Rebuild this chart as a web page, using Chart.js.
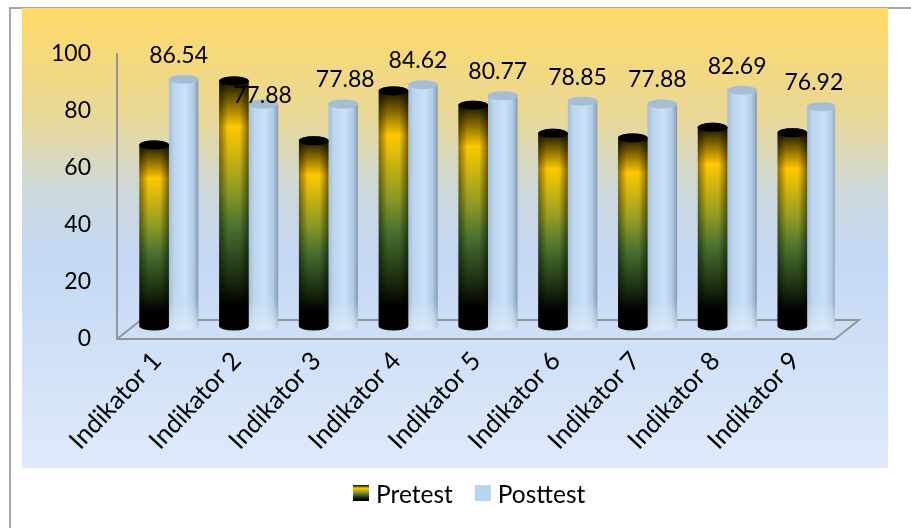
<!DOCTYPE html>
<html>
<head>
<meta charset="utf-8">
<script src="https://cdn.jsdelivr.net/npm/chart.js@4"></script>
<style>
	html, body { margin: 0; padding: 0; background: #fff; overflow: hidden; }
	#frame { position: absolute; left: 9px; top: 7px; right: 0; bottom: 0; border-left: 2px solid #a6a6a6; border-top: 2px solid #a6a6a6; }
	#panel {
		position: absolute; left: 22px; top: 8px; width: 866px; height: 460px;
		background: linear-gradient(180deg, #ffd966 0%, #e8d898 24%, #cdd8dc 40%, #c4d8f4 54%, #dfeafb 100%);
	}
	#chart { position: absolute; left: 0; top: 0; }
	#legend { position: absolute; left: 353px; top: 477px; height: 32px; display: flex; align-items: center; font: 24.5px Lato, "Open Sans", sans-serif; color: #000; }
	#legend i { display: block; width: 16px; height: 16px; margin-right: 7px; }
	#legend span { margin-right: 22px; }
	#legend .pre { background: linear-gradient(180deg, #000 0%, #ffc800 20%, #8f9a24 45%, #47702f 60%, #1a2a0e 80%, #000 90%); }
	#legend .post { background: #bad4ee; }
</style>
</head>
<body>
<div id="frame"></div>
<div id="panel"></div>
<canvas id="chart" width="911" height="528"></canvas>
<div id="legend"><i class="pre"></i><span>Pretest</span><i class="post"></i><span>Posttest</span></div>
<script>
const categories = ['Indikator 1', 'Indikator 2', 'Indikator 3', 'Indikator 4', 'Indikator 5', 'Indikator 6', 'Indikator 7', 'Indikator 8', 'Indikator 9'];
const pretest = [63.5, 86, 65, 82.5, 77.5, 67.6, 66, 69.7, 67.8];
const posttest = [86.54, 77.88, 77.88, 84.62, 80.77, 78.85, 77.88, 82.69, 76.92];
const yTicks = [0, 20, 40, 60, 80, 100];

const FONT = 'Lato, "Open Sans", sans-serif';
const AXIS_GREY = '#969696';

// bars stand in the middle of the floor, not on its front edge
const depthX = 12, depthY = -13;
const floorX = 24, floorY = -19;

// hand placed value labels, the rest sit above their bar
const labelNudge = { 1: [4, 16], 2: [7, 0], 8: [-3, 0] };

const ctx = document.getElementById('chart').getContext('2d');

function pretestStops(g) {
	g.addColorStop(0, '#000000');
	g.addColorStop(0.2, '#ffc800');
	g.addColorStop(0.45, '#8f9a24');
	g.addColorStop(0.6, '#47702f');
	g.addColorStop(0.8, '#1a2a0e');
	g.addColorStop(0.9, '#000000');
	g.addColorStop(1, '#000000');
	return g;
}

class CylinderBar extends Chart.BarElement {
	static id = 'cylinderBar';

	draw(c) {
		const { x, y, base, width } = this;
		const left = x + depthX - width / 2, right = left + width;
		const cx = x + depthX, top = y + depthY, bottom = base + depthY;
		const rx = width / 2, ry = 4.5;
		const isPre = this.options.backgroundColor === 'pre';

		c.save();
		c.beginPath();
		c.moveTo(left, top);
		c.lineTo(left, bottom);
		c.ellipse(cx, bottom, rx, ry, 0, Math.PI, 0, true);
		c.lineTo(right, top);
		c.ellipse(cx, top, rx, ry, 0, 0, Math.PI, true);
		c.closePath();

		if (isPre) {
			c.fillStyle = pretestStops(c.createLinearGradient(0, top - ry, 0, bottom + ry));
			c.fill();
			// darker sides
			const side = c.createLinearGradient(left, 0, right, 0);
			side.addColorStop(0, 'rgba(0,0,0,0.45)');
			side.addColorStop(0.3, 'rgba(0,0,0,0)');
			side.addColorStop(0.7, 'rgba(0,0,0,0)');
			side.addColorStop(1, 'rgba(0,0,0,0.5)');
			c.fillStyle = side;
			c.fill();
		} else {
			const body = c.createLinearGradient(left, 0, right, 0);
			body.addColorStop(0, '#a4bcd4');
			body.addColorStop(0.18, '#bcd6ee');
			body.addColorStop(0.55, '#c8e0f8');
			body.addColorStop(0.82, '#b4cde6');
			body.addColorStop(1, '#829ab4');
			c.fillStyle = body;
			c.fill();
			const lift = c.createLinearGradient(0, bottom - 26, 0, bottom + ry);
			lift.addColorStop(0, 'rgba(225,238,250,0)');
			lift.addColorStop(1, 'rgba(225,238,250,0.75)');
			c.save();
			c.clip();
			c.fillStyle = lift;
			c.fillRect(left, bottom - 26, width, 26 + ry);
			c.restore();
		}

		// cap
		c.beginPath();
		c.ellipse(cx, top, rx, ry, 0, 0, Math.PI * 2);
		c.fillStyle = isPre ? '#000000' : '#a6bdd4';
		c.fill();
		c.restore();
	}
}

class CylinderController extends Chart.BarController {
	static id = 'cylinder';
	static defaults = { ...Chart.BarController.defaults, dataElementType: 'cylinderBar' };
}

Chart.register(CylinderBar, CylinderController);

const floorPlugin = {
	id: 'floor',
	beforeDatasetsDraw(chart) {
		const { x, y } = chart.scales;
		const y0 = y.getPixelForValue(0);
		const c = chart.ctx;
		c.save();
		c.strokeStyle = AXIS_GREY;
		c.lineWidth = 2;
		c.beginPath();
		c.moveTo(x.left, y0);
		c.lineTo(x.left + floorX, y0 + floorY);
		c.lineTo(x.right + floorX, y0 + floorY);
		c.lineTo(x.right, y0);
		c.stroke();
		c.restore();
	}
};

const valueLabels = {
	id: 'valueLabels',
	afterDatasetsDraw(chart) {
		const c = chart.ctx;
		const bars = chart.getDatasetMeta(1).data;
		c.save();
		c.fillStyle = '#000';
		c.font = '23px ' + FONT;
		c.textAlign = 'center';
		c.textBaseline = 'middle';
		bars.forEach((bar, i) => {
			const nudge = labelNudge[i] || [0, 0];
			c.fillText(posttest[i].toFixed(2), bar.x + depthX - 5 + nudge[0], bar.y + depthY - 24 + nudge[1]);
		});
		c.restore();
	}
};

new Chart(ctx, {
	type: 'cylinder',
	data: {
		labels: categories,
		datasets: [
			{ label: 'Pretest', data: pretest, backgroundColor: 'pre' },
			{ label: 'Posttest', data: posttest, backgroundColor: 'post' },
		],
	},
	options: {
		responsive: false,
		animation: false,
		events: [],
		layout: { padding: { left: 0, right: 76, top: 54, bottom: 0 } },
		datasets: { cylinder: { barPercentage: 1, categoryPercentage: 0.74 } },
		scales: {
			x: {
				type: 'category',
				grid: { display: false, drawTicks: false },
				border: { color: AXIS_GREY, width: 2 },
				afterFit(scale) { scale.height = 189; },
				ticks: {
					color: '#000',
					font: { family: FONT, size: 25.5 },
					minRotation: 47,
					maxRotation: 47,
					padding: 7,
					labelOffset: 0,
					autoSkip: false,
				},
			},
			y: {
				min: 0,
				max: 100,
				afterFit(scale) { scale.width = 117; },
				afterBuildTicks(scale) { scale.ticks = yTicks.map(v => ({ value: v })); },
				grid: { display: false, drawTicks: false },
				border: { color: AXIS_GREY, width: 2 },
				ticks: { color: '#000', font: { family: FONT, size: 23 }, padding: 26 },
			},
		},
		plugins: {
			tooltip: { enabled: false },
			legend: { display: false },
		},
	},
	plugins: [floorPlugin, valueLabels],
});
</script>
</body>
</html>
